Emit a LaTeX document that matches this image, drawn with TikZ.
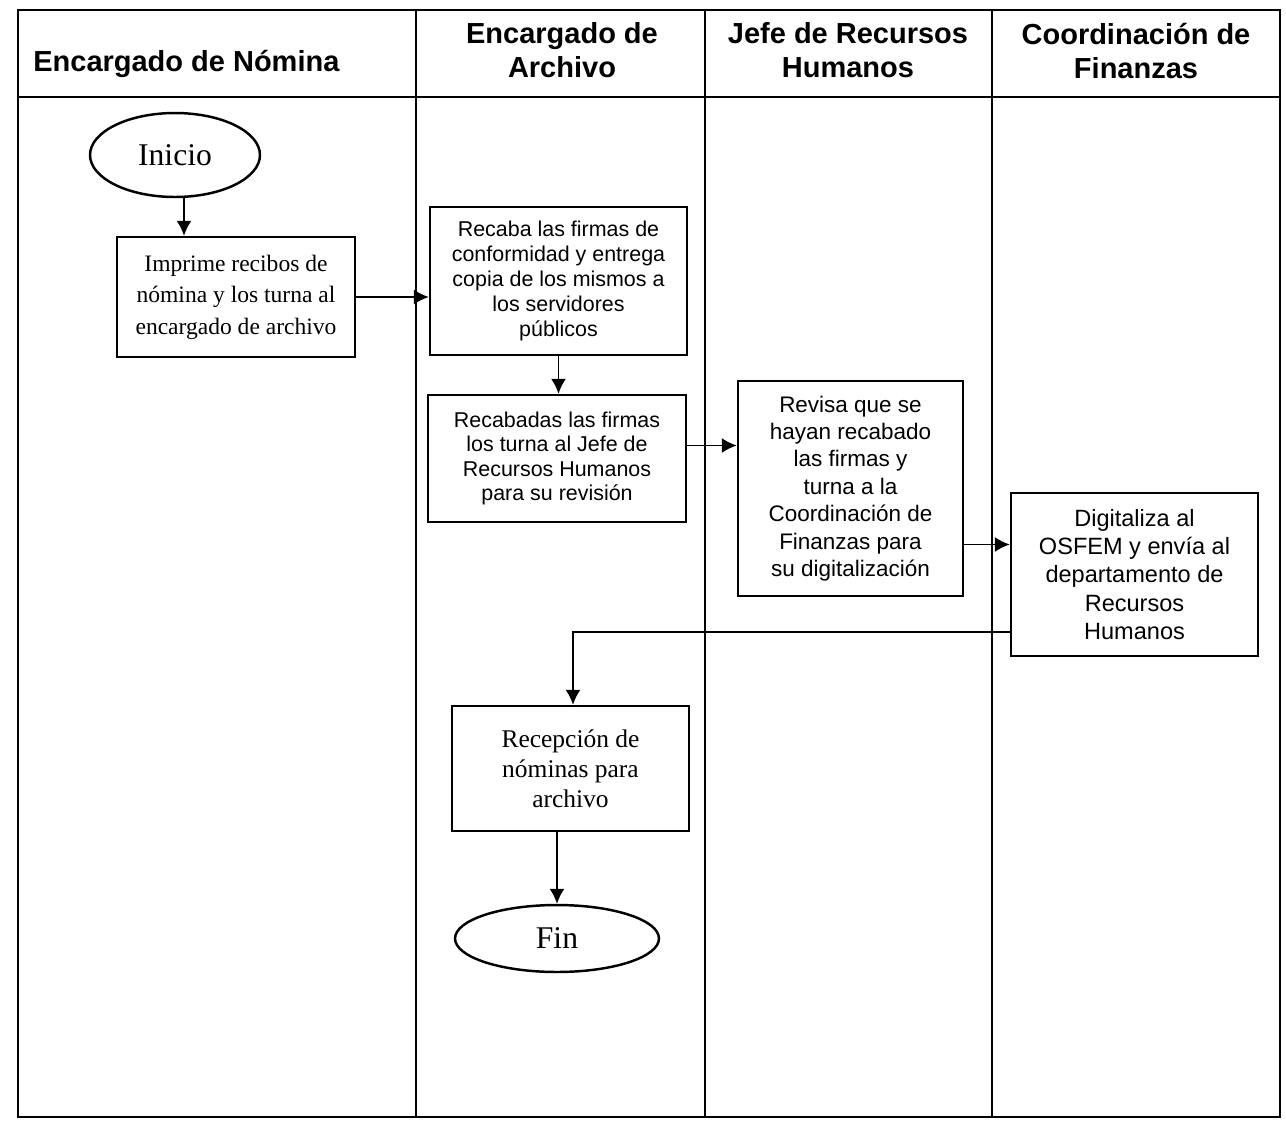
\documentclass[tikz,border=0pt]{standalone}
\usepackage{fontspec}
\setmainfont{Liberation Serif}
\newfontfamily\arialf{Liberation Sans}
\usetikzlibrary{arrows.meta,shapes.geometric,calc}
\begin{document}
\begin{tikzpicture}[x=0.02cm,y=-0.02cm,
  frame/.style={line width=1pt},
  hdr/.style={align=center,font=\arialf\bfseries\fontsize{16.5}{19.5}\selectfont,inner sep=0pt},
  sbox/.style={draw,line width=1.4pt,align=center,inner sep=2pt,font=\arialf\fontsize{12.2}{14.2}\selectfont},
  tbox/.style={draw,line width=1.4pt,align=center,inner sep=2pt,font=\fontsize{13.5}{18}\selectfont},
  term/.style={draw,ellipse,line width=1.4pt,inner sep=0pt,font=\fontsize{18}{20}\selectfont},
  arr/.style={line width=1pt,-{Latex[length=0.3cm,width=0.3cm]}}]
\useasboundingbox (0,0) rectangle (1286,1130);
% frame and lanes
\draw[frame] (18,10) rectangle (1280,1117);
\draw[frame] (18,97) -- (1280,97);
\draw[frame] (416,10) -- (416,1117);
\draw[line width=1.3pt] (705,10) -- (705,1117);
\draw[frame] (992,10) -- (992,1117);
% headers
\node[hdr,anchor=west] (h1) at (33,64) {Encargado de Nómina};
\node[hdr] (h2) at (562,50) {Encargado de\\Archivo};
\node[hdr] (h3) at (848,50) {Jefe de Recursos\\Humanos};
\node[hdr] (h4) at (1136,51) {Coordinación de\\Finanzas};
% nodes
\node[term,minimum width=3.4cm,minimum height=1.68cm] (ini) at (175,155) {Inicio};
\node[tbox,minimum width=4.76cm,minimum height=2.4cm,font=\fontsize{13.4}{18}\selectfont] (imp) at (236,297) {Imprime recibos de\\nómina y los turna al\\encargado de archivo};
\node[sbox,minimum width=5.14cm,minimum height=2.96cm] (rec) at (558.5,281) {Recaba las firmas de\\conformidad y entrega\\copia de los mismos a\\los servidores\\públicos};
\node[sbox,minimum width=5.16cm,minimum height=2.54cm,font=\arialf\fontsize{12.2}{14}\selectfont] (rcb) at (557,458.5) {Recabadas las firmas\\los turna al Jefe de\\Recursos Humanos\\para su revisión};
\node[sbox,minimum width=4.5cm,minimum height=4.3cm,font=\arialf\fontsize{12.8}{15.6}\selectfont] (rev) at (850.5,488.5) {Revisa que se\\hayan recabado\\las firmas y\\turna a la\\Coordinación de\\Finanzas para\\su digitalización};
\node[sbox,minimum width=4.94cm,minimum height=3.26cm,font=\arialf\fontsize{13.4}{16}\selectfont] (dig) at (1134.5,574.5) {Digitaliza al\\OSFEM y envía al\\departamento de\\Recursos\\Humanos};
\node[tbox,minimum width=4.74cm,minimum height=2.5cm,font=\fontsize{14.5}{17}\selectfont] (rcp) at (570.5,768.5) {Recepción de\\nóminas para\\archivo};
\node[term,minimum width=4.08cm,minimum height=1.34cm] (fin) at (557,938.5) {Fin};
% connectors
\draw[arr] ([xshift=0.18cm]ini.south) -- ([xshift=0.18cm]ini.south |- imp.north);
\draw[arr] (imp.east) -- (imp.east -| rec.west);
\draw[arr] (rec.south) -- (rec.south |- rcb.north);
\draw[arr] ([yshift=0.26cm]rcb.east) -- ([yshift=0.26cm]rcb.east -| rev.west);
\draw[arr] ([yshift=-1.12cm]rev.east) -- ([yshift=-1.12cm]rev.east -| dig.west);
\draw[arr] ([yshift=-1.15cm]dig.west) -| ([xshift=0.05cm]rcp.north);
\draw[arr] (fin.north |- rcp.south) -- (fin.north);
\end{tikzpicture}
\end{document}
